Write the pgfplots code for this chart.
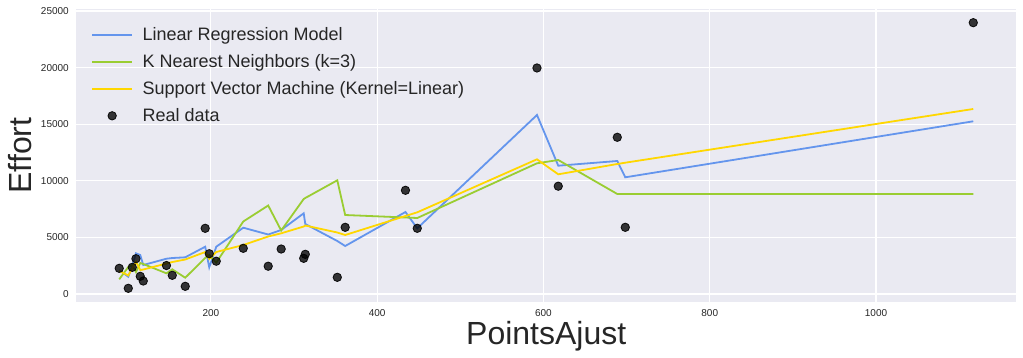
\documentclass[border=0pt]{standalone}
\usepackage{pgfplots}
\pgfplotsset{compat=1.18}
\usepackage{fontspec}
\setmainfont{Liberation Sans}
\definecolor{bgc}{HTML}{EAEAF2}
\definecolor{lrblue}{HTML}{6495ED}
\definecolor{knngreen}{HTML}{9ACD32}
\definecolor{svmgold}{HTML}{FFD700}
\definecolor{txt}{HTML}{262626}
\begin{document}
\begin{tikzpicture}
\useasboundingbox (-76.5pt,-56.4pt) rectangle (946.5pt,301.6pt);
\begin{axis}[
 at={(0pt,0pt)}, anchor=south west, scale only axis,
 width=939.5pt, height=292.2pt,
 xmin=38.3, xmax=1168.4, ymin=-669, ymax=25139,
 axis background/.style={fill=bgc},
 axis line style={draw=none},
 major tick length=0pt,
 grid=major, major grid style={white, line width=1.1pt},
 xtick={200,400,600,800,1000}, ytick={0,5000,10000,15000,20000,25000},
 scaled ticks=false,
 /pgf/number format/assume math mode=true,
 /pgf/number format/1000 sep={},
 tick label style={font=\fontsize{10}{12}\selectfont, text=txt},
 xticklabel style={anchor=base, yshift=-14.5pt, inner sep=0pt},
 yticklabel style={anchor=east, xshift=-7.5pt, inner sep=0pt},
 xlabel={PointsAjust}, ylabel={Effort},
 label style={font=\fontsize{32}{38}\selectfont, text=txt},
 xlabel style={at={(axis description cs:0.5,-0.1485)}, anchor=base, inner sep=0pt},
 ylabel style={at={(axis description cs:-0.0601,0.5)}, anchor=center, inner sep=0pt},
 legend style={at={(axis description cs:0.0155,0.938)}, anchor=north west, draw=none, fill=none, inner sep=0pt, row sep=12.4pt, column sep=9.5pt, font=\fontsize{18}{22}\selectfont, text=txt, nodes={inner sep=0pt}},
 legend cell align=left,
 legend image code/.code={\draw[mark repeat=2,mark phase=2,#1] plot coordinates {(0pt,0pt) (20pt,0pt) (40pt,0pt)};},
]
\addplot[lrblue, line width=1.8pt] table {
x y
89.7 2120
100.6 1528
105.4 2473
109.8 3595
115 3445
118.6 2562
146.5 3118
153.5 3180
169.1 3242
193.1 4178
198 2359
206.4 4178
238.9 5857
268.9 5256
284.5 5654
311.6 7129
313.5 6184
352 4682
361.5 4240
434 7244
448.2 5804
592.2 15813
617.8 11334
688.8 11749
698.4 10309
1117 15256
};
\addlegendentry{Linear Regression Model}
\addplot[knngreen, line width=1.8pt] table {
x y
89.7 1299
100.6 2385
105.4 2562
109.8 1943
115 2739
118.6 2650
146.5 1829
153.5 2182
169.1 1440
193.1 3180
198 3445
206.4 2765
238.9 6405
268.9 7818
284.5 5610
311.6 8392
313.5 8481
352 10044
361.5 6979
434 6758
448.2 6714
592.2 11546
617.8 11837
688.8 8834
698.4 8834
1117 8834
};
\addlegendentry{K Nearest Neighbors (k=3)}
\addplot[svmgold, line width=1.8pt] table {
x y
89.7 2058
100.6 1634
105.4 2297
109.8 2853
115 2120
118.6 2164
146.5 2694
153.5 2827
169.1 3048
193.1 3710
198 3092
206.4 3710
238.9 4329
268.9 5080
284.5 5362
311.6 5963
313.5 6051
352 5433
361.5 5212
434 6890
448.2 7217
592.2 11899
617.8 10574
688.8 11484
698.4 11599
1117 16343
};
\addlegendentry{Support Vector Machine (Kernel=Linear)}
\addplot[only marks, mark=*, mark size=4.2pt, mark options={fill=black, draw=black, fill opacity=0.78, draw opacity=0.9, line width=0.8pt}] table {
x y
89.7 2270
100.6 504
105.4 2359
109.8 3118
115 1564
118.6 1148
146.5 2518
153.5 1652
169.1 680
193.1 5804
198 3560
206.4 2898
238.9 4037
268.9 2456
284.5 3975
311.6 3154
313.5 3507
352 1475
361.5 5892
434 9161
448.2 5804
592.2 19965
617.8 9523
688.8 13843
698.4 5892
1117 23966
};
\addlegendentry{Real data}
\end{axis}
\end{tikzpicture}
\end{document}
